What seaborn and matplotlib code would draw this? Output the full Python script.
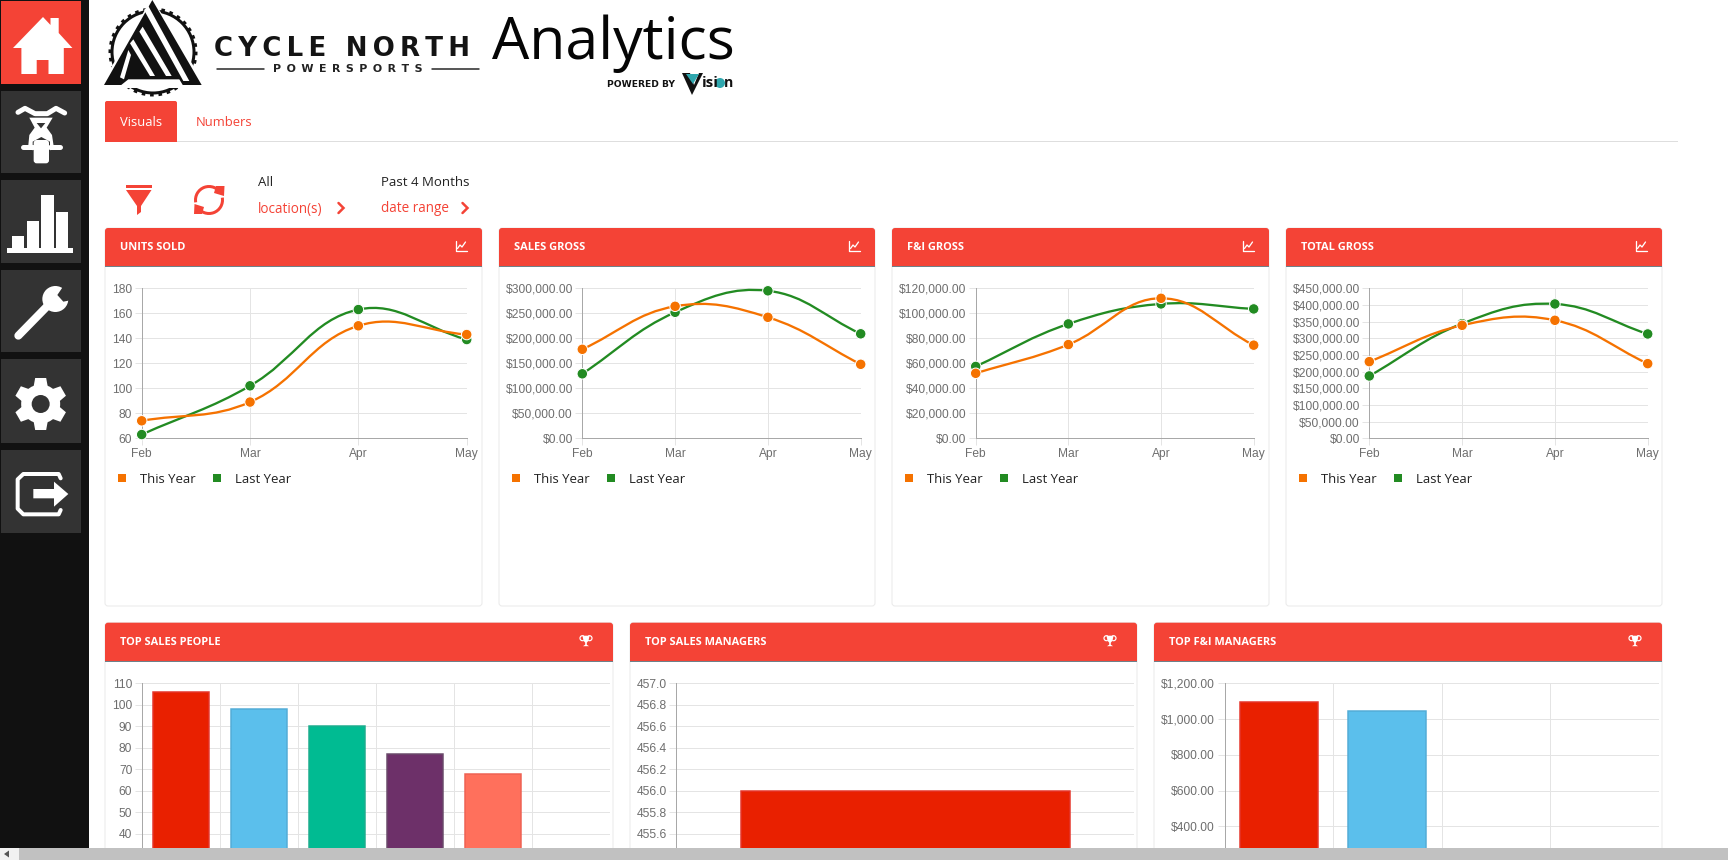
import numpy as np
import pandas as pd
import matplotlib
matplotlib.use("Agg")
import matplotlib.pyplot as plt
from matplotlib.patches import Rectangle, FancyBboxPatch, Polygon, Circle, PathPatch, Arc
from matplotlib.path import Path
from matplotlib.lines import Line2D
import seaborn as sns

# ---------- data ----------
months = ["Feb", "Mar", "Apr", "May"]
units_this = [74, 89, 150, 143]
units_last = [63, 102, 163, 139]
sales_this = [178000, 264000, 242000, 148000]
sales_last = [129000, 252000, 295000, 209000]
fi_this = [52000, 75000, 112000, 74500]
fi_last = [57500, 91500, 107500, 103500]
total_this = [230000, 339000, 354000, 224000]
total_last = [187000, 344000, 403000, 313000]

units_ticks = [60, 80, 100, 120, 140, 160, 180]
sales_ticks = [0, 50000, 100000, 150000, 200000, 250000, 300000]
fi_ticks = [0, 20000, 40000, 60000, 80000, 100000, 120000]
total_ticks = [0, 50000, 100000, 150000, 200000, 250000, 300000, 350000, 400000, 450000]

people_names = ["A", "B", "C", "D", "E"]
people_values = [106, 98, 90, 77, 68]
people_ticks = [40, 50, 60, 70, 80, 90, 100, 110]
managers_names = ["A"]
managers_values = [456.0]
managers_ticks = [455.6, 455.8, 456.0, 456.2, 456.4, 456.6, 456.8, 457.0]
fi_mgr_names = ["A", "B"]
fi_mgr_values = [1094, 1043]
fi_mgr_ticks = [400, 600, 800, 1000, 1200]

# ---------- style ----------
W, H = 1728, 860
RED = "#F44336"
ORANGE = "#F57200"
GREEN = "#228B22"
GRID = "#E4E4E4"
AXIS = "#A8A8A8"
LABEL = "#6E6E6E"
BAR_FILL = ["#E92000", "#5BBFEC", "#00BB92", "#6D3069", "#FF705C"]
BAR_EDGE = ["#E5352A", "#52ACD6", "#1DAD8E", "#6A4A6A", "#EE6152"]

sns.set_theme(style="white")
plt.rcParams["font.family"] = ["Liberation Sans", "DejaVu Sans"]
pt = 72 / 100  # one pixel in points

fig = plt.figure(figsize=(W / 100, H / 100), dpi=100, facecolor="white")
bg = fig.add_axes([0, 0, 1, 1], zorder=0)
bg.set_xlim(0, W); bg.set_ylim(H, 0); bg.axis("off")
top = fig.add_axes([0, 0, 1, 1], zorder=5)
top.set_xlim(0, W); top.set_ylim(H, 0); top.axis("off"); top.patch.set_alpha(0)


def rect(a, x0, y0, x1, y1, c, **k):
    a.add_patch(Rectangle((x0, y0), x1 - x0, y1 - y0, fc=c, ec="none", **k))


def poly(a, pts, c, **k):
    a.add_patch(Polygon(pts, closed=True, fc=c, ec="none", **k))


def txt(x, y, s, size_px, color="black", family="Open Sans", weight="normal", ha="left", va="center"):
    bg.text(x, y, s, fontsize=size_px * pt, color=color, family=family, weight=weight, ha=ha, va=va)


# ---------- sidebar ----------
rect(bg, 0, 0, 89, 848, "#111111")
rect(bg, 1, 1, 81, 84, RED)
for y0, y1 in [(91, 173), (180, 263), (270, 352), (359, 443), (450, 533)]:
    rect(bg, 1, y0, 81, y1, "#333333")

# house
poly(bg, [(43, 17), (50.5, 25), (50.5, 18), (58.7, 18), (58.7, 33), (72.4, 48), (63.8, 48), (63.8, 74),
          (48.5, 74), (48.5, 60), (36.7, 60), (36.7, 74), (21.4, 74), (21.4, 48), (13, 48)], "white")


def z9(pts, ox=0, oy=85):
    return [(ox + p[0] / 3, oy + p[1] / 3) for p in pts]


# motorcycle
xs, ys = zip(*z9([(54, 82), (75, 70), (105, 86), (122, 86), (142, 86), (168, 70), (194, 84)]))
bg.plot(xs, ys, color="white", lw=5 * pt, solid_capstyle="round", solid_joinstyle="round")
poly(bg, z9([(88, 98), (158, 98), (140, 128), (156, 150), (162, 190), (150, 196), (150, 170), (124, 156),
             (98, 170), (98, 196), (84, 190), (88, 150), (104, 128)]), "white")
poly(bg, z9([(110, 114), (136, 114), (123, 130)]), "#333333")
bg.add_patch(FancyBboxPatch((101 / 3, 85 + 165 / 3), 46 / 3, 70 / 3, boxstyle="round,pad=0,rounding_size=3",
                            fc="white", ec="none"))
bg.plot([70 / 3, 98 / 3], [85 + 186 / 3] * 2, color="white", lw=5 * pt, solid_capstyle="round")
bg.plot([150 / 3, 180 / 3], [85 + 186 / 3] * 2, color="white", lw=5 * pt, solid_capstyle="round")

# bars icon
for a, b, c in [(37, 73, 453), (80, 118, 408), (124, 161, 330), (167, 204, 380)]:
    rect(bg, a / 3, 85 + c / 3, b / 3, 85 + 490 / 3, "white")
rect(bg, 22 / 3, 85 + 490 / 3, 220 / 3, 85 + 503 / 3, "white")

# wrench
xs, ys = zip(*z9([(55, 752), (150, 655)]))
bg.plot(xs, ys, color="white", lw=8 * pt, solid_capstyle="round")
bg.add_patch(Circle((166 / 3, 85 + 642 / 3), 13, fc="white", ec="none"))
poly(bg, z9([(172, 630), (195, 596), (225, 625), (215, 645), (190, 650)]), "#333333")
bg.add_patch(Circle((62 / 3, 85 + 748 / 3), 2, fc="#333333", ec="none"))

# gear
gx, gy = 122 / 3, 350 + 162 / 3
bg.add_patch(Circle((gx, gy), 19.5, fc="white", ec="none"))
for ang in np.deg2rad(np.arange(30, 390, 60)):
    u = np.array([np.cos(ang), np.sin(ang)])
    v = np.array([-u[1], u[0]])
    c = np.array([gx, gy])
    poly(bg, [c + u * 15 + v * 7.5, c + u * 26 + v * 5.5, c + u * 26 - v * 5.5, c + u * 15 - v * 7.5], "white")
bg.add_patch(Circle((gx, gy), 9, fc="#333333", ec="none"))

# exit
verts = z9([(182, 385), (176, 372), (70, 372), (53, 388), (53, 476), (70, 493), (176, 493), (182, 480)], oy=350)
xs, ys = zip(*verts)
bg.plot(xs, ys, color="white", lw=4 * pt, solid_joinstyle="round", solid_capstyle="round")
poly(bg, z9([(100, 417), (162, 417), (162, 395), (205, 432), (162, 470), (162, 445), (100, 445)], oy=350), "white")


# ---------- logo ----------
def z11(pts):
    return [(100 + p[0] / 3, p[1] / 3) for p in pts]


bg.add_patch(Circle((153, 52), 41, fc="none", ec="#111111", lw=3 * pt))
bg.add_patch(Circle((153, 52), 43, fc="none", ec="#111111", lw=3 * pt, ls=(0, (1.2, 1.6))))
poly(bg, [(152, -2), (207, 88), (99, 88)], "white")
poly(bg, z11([(157, 0), (305, 255), (12, 255)]), "#111111")
poly(bg, z11([(85, 238), (238, 238), (250, 258), (60, 258)]), "white")
poly(bg, z11([(132, 30), (145, 18), (268, 243), (250, 243)]), "white")
poly(bg, z11([(118, 95), (128, 80), (215, 228), (198, 228)]), "white")
poly(bg, z11([(90, 130), (100, 118), (165, 228), (150, 228)]), "white")
poly(bg, z11([(72, 238), (60, 232), (85, 150), (93, 165)]), "white")
txt(214, 48.5, "C\u2009Y\u2009C\u2009L\u2009E\u2009 \u2009N\u2009O\u2009R\u2009T\u2009H", 26, color="#141414",
    family="DejaVu Sans", weight="bold")
txt(348, 69, "P\u2002O\u2002W\u2002E\u2002R\u2002S\u2002P\u2002O\u2002R\u2002T\u2002S", 11, color="#222222",
    family="DejaVu Sans", weight="bold", ha="center")
bg.plot([217, 264], [69, 69], color="#222222", lw=1.5 * pt)
bg.plot([432, 479], [69, 69], color="#222222", lw=1.5 * pt)
txt(492, 44, "Analytics", 59, color="#050505", va="center")
txt(607, 84.5, "POWERED BY", 9.2, color="#111111", family="DejaVu Sans", weight="bold")
poly(bg, [(682, 73), (690, 73), (694, 85), (699, 73), (703, 73), (692, 95)], "#111111")
poly(bg, [(686, 74), (699, 74), (693, 84)], "#2FA7AE")
txt(702, 83, "isi", 15, color="#111111", weight="bold")
bg.add_patch(Circle((720, 83), 5, fc="#2FA7AE", ec="none"))
txt(724, 83, "n", 14, color="#111111", weight="bold")

# ---------- tabs + filter row ----------
bg.add_patch(FancyBboxPatch((105, 101), 72, 44, boxstyle="round,pad=0,rounding_size=2", fc=RED, ec="none"))
rect(bg, 104, 142, 1678, 860, "white")
rect(bg, 105, 141, 1678, 142, "#DEDEDE")
rect(bg, 105, 130, 177, 141.5, RED)
txt(141, 123, "Visuals", 13, color="white", ha="center")
txt(196, 123, "Numbers", 13, color=RED)

rect(bg, 126, 185, 151.5, 188, RED)
poly(bg, [(126, 190), (151.5, 190), (141, 206), (141, 212), (137, 215), (137, 206)], RED)
bg.add_patch(Arc((209, 200), 27, 27, theta1=170, theta2=330, ec=RED, lw=3 * pt))
bg.add_patch(Arc((209, 200), 27, 27, theta1=-10, theta2=150, ec=RED, lw=3 * pt))
poly(bg, [(216, 186), (224.5, 186), (224, 196), (214, 193)], RED)
poly(bg, [(202, 214), (194, 214), (194.5, 204), (204, 207)], RED)
txt(258, 182.5, "All", 13.3, color="#222222")
txt(381, 182.5, "Past 4 Months", 13.3, color="#222222")
txt(258, 209, "location(s)", 13.5, color=RED)
txt(381, 209, "date range", 13.5, color=RED)
for cx in (341, 465):
    bg.plot([cx - 2.5, cx + 2.5, cx - 2.5], [203, 208, 213], color=RED, lw=2.5 * pt, solid_joinstyle="miter")


# ---------- cards ----------
def card(x0, x1, y0, y1, title, icon):
    bg.add_patch(FancyBboxPatch((x0, y0), x1 - x0, y1 - y0, boxstyle="round,pad=0,rounding_size=3",
                                fc="white", ec="#EAEAEA", lw=1 * pt))
    hb = y0 + 38
    bg.add_patch(FancyBboxPatch((x0, y0), x1 - x0, 10, boxstyle="round,pad=0,rounding_size=3", fc=RED, ec="none"))
    rect(bg, x0, y0 + 5, x1, hb, RED)
    rect(bg, x0, hb - 0.2, x1, hb + 0.8, "#6F8089")
    txt(x0 + 15, y0 + 19.5, title, 11, color="white", weight="bold")
    iy = y0 + 18
    if icon == "chart":
        ix = x1 - 21.5
        bg.plot([ix - 5, ix - 5, ix + 6], [iy - 5, iy + 5, iy + 5], color="white", lw=1.3 * pt)
        bg.plot([ix - 3, ix - 0.5, ix + 1.5, ix + 5], [iy + 2.5, iy - 1, iy + 1, iy - 4], color="white", lw=1.3 * pt)
    else:
        ix = x1 - 27
        poly(bg, [(ix - 3.5, iy - 5), (ix + 3.5, iy - 5), (ix + 2.5, iy), (ix + 0.8, iy + 2), (ix + 0.8, iy + 4),
                  (ix + 3, iy + 5.5), (ix - 3, iy + 5.5), (ix - 0.8, iy + 4), (ix - 0.8, iy + 2), (ix - 2.5, iy)],
             "white")
        bg.add_patch(Arc((ix - 3.5, iy - 2.5), 5, 5, theta1=60, theta2=300, ec="white", lw=1.2 * pt))
        bg.add_patch(Arc((ix + 3.5, iy - 2.5), 5, 5, theta1=-120, theta2=120, ec="white", lw=1.2 * pt))


def px_axes(l, t, r, b):
    ax = fig.add_axes([l / W, 1 - b / H, (r - l) / W, (b - t) / H], zorder=2)
    ax.patch.set_alpha(0)
    return ax


def style_axes(ax, ticks, fmt):
    ax.set_yticks(ticks)
    ax.set_yticklabels([fmt(t) for t in ticks], va="center_baseline")
    ax.grid(True, color=GRID, lw=1 * pt)
    ax.set_axisbelow(True)
    for s in ("top", "right"):
        ax.spines[s].set_visible(False)
    for s in ("left", "bottom"):
        ax.spines[s].set_color(AXIS)
        ax.spines[s].set_linewidth(1 * pt)
    ax.tick_params(axis="both", length=7 * pt, width=1 * pt, color=GRID, pad=2.5 * pt,
                   labelsize=12 * pt, labelcolor=LABEL, left=True, bottom=True)
    ax.set_xlabel("")
    ax.set_ylabel("")


def spline_path(xv, yv, sx, sy, tension=0.4):
    """Bezier through the values, built the way the source chart library smooths its lines."""
    p = np.column_stack([np.array(xv, float) * sx, np.array(yv, float) * sy])
    n = len(p)
    verts = [p[0]]
    codes = [Path.MOVETO]
    ctrl = []
    for i in range(n):
        a = p[max(i - 1, 0)]
        b = p[i]
        c = p[min(i + 1, n - 1)]
        d01 = np.hypot(*(b - a))
        d12 = np.hypot(*(c - b))
        tot = d01 + d12
        s01 = d01 / tot if tot else 0
        s12 = d12 / tot if tot else 0
        ctrl.append((b - tension * s01 * (c - a), b + tension * s12 * (c - a)))
    for i in range(n - 1):
        verts += [ctrl[i][1], ctrl[i + 1][0], p[i + 1]]
        codes += [Path.CURVE4] * 3
    verts = np.array(verts) / np.array([sx, sy])
    return Path(verts, codes)


def line_panel(x0, x1, axl, axr, title, this_year, last_year, ticks, fmt):
    card(x0, x1, 228, 606, title, "chart")
    ax = px_axes(axl, 288.3, axr, 438.3)
    idx = list(range(len(months)))
    df = pd.DataFrame({
        "idx": idx + idx,
        "value": list(last_year) + list(this_year),
        "series": ["Last Year"] * 4 + ["This Year"] * 4,
    })
    ylim = (ticks[0], ticks[-1])
    sx = (axr - axl) / 3
    sy = 150 / (ylim[1] - ylim[0])
    for vals, col in ((last_year, GREEN), (this_year, ORANGE)):
        ax.add_patch(PathPatch(spline_path(idx, vals, sx, sy), fc="none", ec=col, lw=2.3 * pt, zorder=3))
    sns.scatterplot(data=df, x="idx", y="value", hue="series", palette={"This Year": ORANGE, "Last Year": GREEN},
                    s=(10.5 * pt) ** 2, edgecolor="white", linewidth=1 * pt, clip_on=False, legend=False, zorder=4,
                    ax=ax)
    ax.set_xlim(0, 3)
    ax.set_ylim(*ylim)
    ax.set_xticks(idx)
    ax.set_xticklabels(months)
    style_axes(ax, ticks, fmt)
    handles = [Line2D([], [], ls="none", marker="s", ms=8 * pt, mew=0, color=ORANGE),
               Line2D([], [], ls="none", marker="s", ms=8 * pt, mew=0, color=GREEN)]
    leg = ax.legend(handles, ["This Year", "Last Year"], ncol=2, frameon=False, loc="center left",
                    bbox_to_anchor=((x0 + 13) / W, 1 - 479.3 / H), bbox_transform=fig.transFigure,
                    borderpad=0, borderaxespad=0, handlelength=0.6, handletextpad=1.06,
                    columnspacing=1.38, prop={"family": "Open Sans", "size": 13.1 * pt})
    for t in leg.get_texts():
        t.set_color("#222222")


def bar_panel(x0, x1, axl, axr, title, names, values, ticks, fmt, ybottom, ytop, n_slots):
    card(x0, x1, 622.7, 900, title, "trophy")
    ax = px_axes(axl, 683.3, axr, 848)
    df = pd.DataFrame({"name": names, "value": values})
    sns.barplot(data=df, x="name", y="value", hue="name", palette=BAR_FILL[:len(names)], width=0.72, gap=0,
                saturation=1, legend=False, dodge=False, ax=ax, zorder=3)
    for patch, edge in zip(ax.patches, BAR_EDGE):
        patch.set_edgecolor(edge)
        patch.set_linewidth(1.5 * pt)
    ax.set_xlim(-0.5, n_slots - 0.5)
    ax.set_ylim(ybottom, ytop)
    ax.set_xticks(np.arange(-0.5, n_slots))
    ax.set_xticklabels([])
    style_axes(ax, ticks, fmt)
    ax.tick_params(axis="x", bottom=False)


money = lambda v: f"${v:,.2f}"
plain = lambda v: f"{v:g}"
one = lambda v: f"{v:.1f}"

line_panel(105, 482, 141.7, 466.7, "UNITS SOLD", units_this, units_last, units_ticks, plain)
line_panel(499, 875, 582.3, 860.7, "SALES GROSS", sales_this, sales_last, sales_ticks, money)
line_panel(892, 1269, 975.7, 1253.7, "F&I GROSS", fi_this, fi_last, fi_ticks, money)
line_panel(1286, 1662, 1369.3, 1647.7, "TOTAL GROSS", total_this, total_last, total_ticks, money)

bar_panel(105, 613, 141.8, 609.6, "TOP SALES PEOPLE", people_names, people_values, people_ticks, plain, 33.4, 110, 6)
bar_panel(630, 1137, 676.4, 1134.3, "TOP SALES MANAGERS", managers_names, managers_values, managers_ticks, one,
          455.468, 457, 1)
bar_panel(1154, 1662, 1224.5, 1658.7, "TOP F&I MANAGERS", fi_mgr_names, fi_mgr_values, fi_mgr_ticks, money,
          278.6, 1200, 4)

# ---------- scrollbar ----------
rect(top, 0, 848, W, H, "#C1C1C1")
rect(top, 0, 848, 19, H, "#F1F1F1")
poly(top, [(4, 854), (9, 850.5), (9, 857.5)], "#555555")

fig.savefig("out.png", dpi=100)
